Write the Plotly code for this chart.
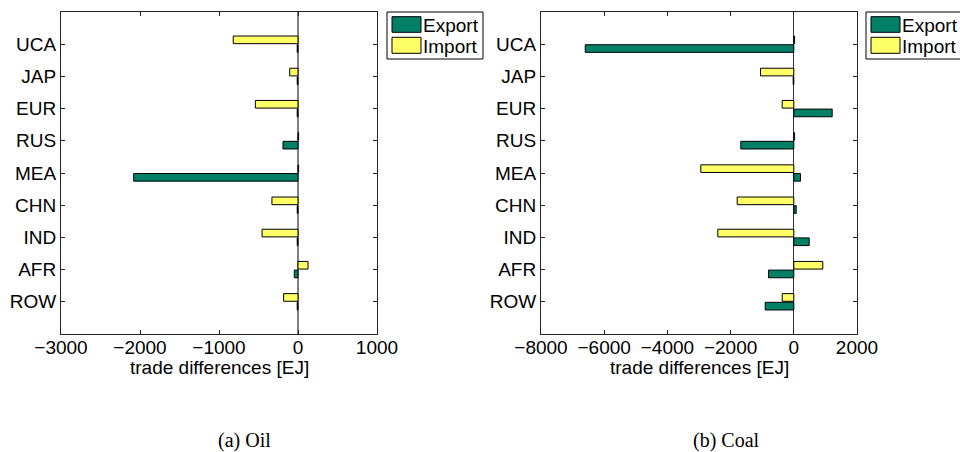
import plotly.graph_objects as go

# Regions (top to bottom)
regions = ["UCA", "JAP", "EUR", "RUS", "MEA", "CHN", "IND", "AFR", "ROW"]

# Oil trade differences [EJ]
oil_export = [-10, -10, -10, -190, -2080, -10, -10, -47, -10]
oil_import = [-820, -105, -540, 8, 8, -330, -455, 127, -182]

# Coal trade differences [EJ]
coal_export = [-6600, -20, 1215, -1677, 212, 76, 487, -801, -905]
coal_import = [25, -1054, -367, 25, -2943, -1791, -2405, 918, -367]

series_names = ["Export", "Import"]
series_colors = ["#008066", "#FFFF66"]

captions = ["(a) Oil", "(b) Coal"]
x_title = "trade differences [EJ]"
x_ranges = [[-3000, 1000], [-8000, 2000]]
x_dticks = [1000, 2000]

W, H = 960, 452
FONT = "Liberation Sans, Arial, sans-serif"
FS = 19

fig = go.Figure()

panels = [
    (oil_export, oil_import, "x", "y"),
    (coal_export, coal_import, "x2", "y2"),
]
for exp_vals, imp_vals, xa, ya in panels:
    # Import first so it sits above Export within each group
    fig.add_trace(go.Bar(
        y=regions, x=imp_vals, orientation="h", name=series_names[1],
        marker=dict(color=series_colors[1], line=dict(color="black", width=1)),
        xaxis=xa, yaxis=ya, showlegend=False,
    ))
    fig.add_trace(go.Bar(
        y=regions, x=exp_vals, orientation="h", name=series_names[0],
        marker=dict(color=series_colors[0], line=dict(color="black", width=1)),
        xaxis=xa, yaxis=ya, showlegend=False,
    ))

# panel box positions in pixels
box_left = [61, 541]
box_right = [377, 857]
box_top, box_bottom = 12, 334

def px_x(p):
    return p / W

def px_y(p):
    return 1 - p / H

axis_common = dict(
    showline=True, linecolor="#222", linewidth=1, mirror="ticks",
    ticks="inside", ticklen=4, tickcolor="#222",
    showgrid=False, automargin=False,
    tickfont=dict(family=FONT, size=FS, color="black"),
)

zero_colors = ["#808080", "#333333"]
zero_widths = [2, 1]

annotations = []
for i in range(2):
    sfx = "" if i == 0 else str(i + 1)
    fig.layout["xaxis" + sfx] = dict(
        axis_common,
        domain=[px_x(box_left[i]), px_x(box_right[i])],
        range=x_ranges[i], dtick=x_dticks[i], tick0=0,
        zeroline=True, zerolinecolor=zero_colors[i], zerolinewidth=zero_widths[i],
        ticklabelstandoff=-4,
        anchor="y" + sfx,
    )
    fig.layout["yaxis" + sfx] = dict(
        axis_common,
        domain=[px_y(box_bottom), px_y(box_top)],
        type="category", categoryorder="array", categoryarray=regions,
        range=[9, -1], zeroline=False, ticklabelstandoff=0,
        anchor="x" + sfx,
    )
    # x-axis title centred under each panel
    annotations.append(dict(
        xref="paper", yref="paper",
        x=px_x((box_left[i] + box_right[i]) / 2), y=px_y(367),
        xanchor="center", yanchor="middle", showarrow=False,
        text=x_title, font=dict(family=FONT, size=FS, color="black"),
    ))

# legend boxes drawn per panel
shapes = []
leg_box_x0 = [387, 866]
for i in range(2):
    x0 = leg_box_x0[i]
    shapes.append(dict(type="rect", xref="paper", yref="paper",
                       x0=px_x(x0), x1=px_x(x0 + 96), y0=px_y(59), y1=px_y(12),
                       line=dict(color="black", width=1), fillcolor="white"))
    rows = [(16.7, 32.3, 25), (37.3, 53.3, 46)]
    for k, (t, b, c) in enumerate(rows):
        shapes.append(dict(type="rect", xref="paper", yref="paper",
                           x0=px_x(x0 + 5), x1=px_x(x0 + 34),
                           y0=px_y(b), y1=px_y(t),
                           line=dict(color="black", width=1),
                           fillcolor=series_colors[k]))
        annotations.append(dict(
            xref="paper", yref="paper", x=px_x(x0 + 33.5), y=px_y(c),
            xanchor="left", yanchor="middle", showarrow=False,
            text=series_names[k],
            font=dict(family=FONT, size=FS, color="black"),
        ))

caption_x = [244, 726]
for i in range(2):
    annotations.append(dict(
        xref="paper", yref="paper", x=px_x(caption_x[i]), y=px_y(440),
        xanchor="center", yanchor="middle", showarrow=False,
        text=captions[i],
        font=dict(family="Liberation Serif, Times New Roman, serif", size=20, color="black"),
    ))

fig.update_layout(
    width=W, height=H,
    margin=dict(l=0, r=0, t=0, b=0, autoexpand=False),
    paper_bgcolor="white", plot_bgcolor="white",
    barmode="group", bargap=0.46, bargroupgap=0.12,
    shapes=shapes, annotations=annotations,
    font=dict(family=FONT, size=FS, color="black"),
)

fig.write_html("out.html")
